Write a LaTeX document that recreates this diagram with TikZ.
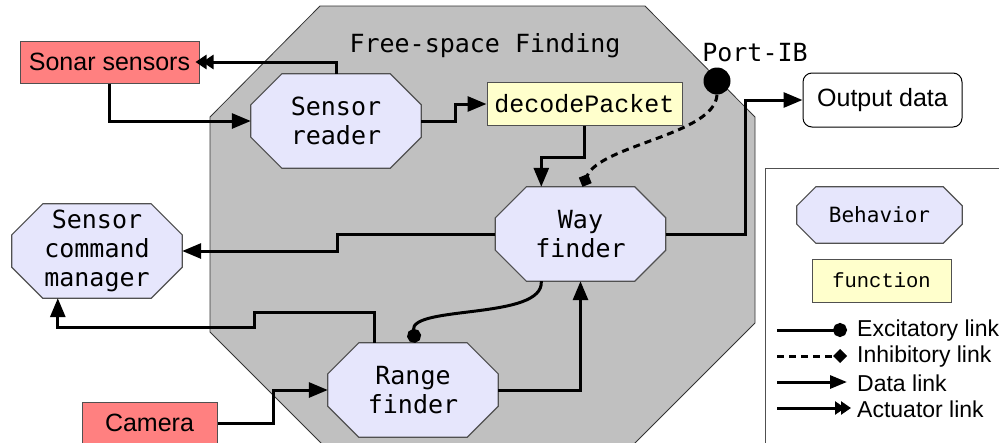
\documentclass[tikz,border=0pt]{standalone}
\usepackage{fontspec}
\setmainfont{Liberation Sans}
\newfontfamily\behfont{DejaVu Sans Mono}
\newfontfamily\funfont{Liberation Mono}
\usetikzlibrary{arrows.meta,calc}

\pgfdeclarelayer{back}
\pgfdeclarelayer{shapes}
\pgfsetlayers{back,shapes,main}

\definecolor{behfill}{RGB}{230,230,252}
\definecolor{sensfill}{RGB}{255,128,128}
\definecolor{funfill}{RGB}{255,255,204}
\definecolor{groupfill}{RGB}{192,192,192}
\definecolor{edgegray}{RGB}{80,80,80}

% octagon drawn round a named rectangle node: #1 node, #2 corner cut
\newcommand\octshape[2]{%
  \begin{pgfonlayer}{shapes}
    \draw[fill=behfill, draw=edgegray, line width=1.2pt]
      ([xshift=#2]#1.north west) -- ([xshift=-#2]#1.north east)
      -- ([yshift=-#2]#1.north east) -- ([yshift=#2]#1.south east)
      -- ([xshift=-#2]#1.south east) -- ([xshift=#2]#1.south west)
      -- ([yshift=#2]#1.south west) -- ([yshift=-#2]#1.north west) -- cycle;
  \end{pgfonlayer}}

\begin{document}
\begin{tikzpicture}[x=1pt, y=-1pt,
  beh/.style={rectangle, minimum width=170pt, minimum height=94pt, inner sep=0pt,
    align=center, font=\behfont\fontsize{25}{29}\selectfont},
  sensor/.style={rectangle, fill=sensfill, draw=edgegray, line width=1pt,
    minimum height=42pt, inner sep=0pt, font=\fontsize{25}{29}\selectfont},
  fun/.style={rectangle, fill=funfill, draw=edgegray, line width=1pt,
    minimum height=43pt, inner sep=0pt, font=\funfont\fontsize{25}{29}\selectfont},
  link/.style={line width=3pt},
  data/.style={link, -{Triangle[length=19pt,width=15pt]}},
  act/.style={link, -{Triangle[length=11pt,width=14pt,sep=-4pt]Triangle[length=11pt,width=14pt,sep=-4pt]}},
  exc/.style={link, -{Circle[length=14pt]}},
  inh/.style={link, dash pattern=on 7pt off 5pt, -{Turned Square[length=14pt,width=14pt]}},
  legtext/.style={anchor=west, inner sep=0pt, font=\fontsize{23}{26}\selectfont}
]
\useasboundingbox (0,0) rectangle (999,442);

% the free-space finding group
\begin{pgfonlayer}{back}
  \fill[white] (0,0) rectangle (999,442);
  \clip (0,0) rectangle (999,442);
  \draw[fill=groupfill, draw=black!80, line width=0.8pt]
    (320,6) -- (645,6) -- (755,117) -- (755,323) -- (618,460)
    -- (338,460) -- (210,332) -- (210,117) -- cycle;
\end{pgfonlayer}
\node[font=\behfont\fontsize{25}{29}\selectfont] (group) at (485,46) {Free-space Finding};

% sensors and outputs
\node[sensor, minimum width=179pt] (sonar) at (109.5,62) {Sonar sensors};
\node[sensor, minimum width=135pt] (cam) at (149.5,423) {Camera};
\node[rectangle, rounded corners=9pt, draw=black, line width=1pt, fill=white,
  minimum width=159pt, minimum height=54pt, inner sep=0pt,
  font=\fontsize{25}{29}\selectfont] (out) at (882.5,100) {Output data};

% behaviours
\node[beh] (sreader) at (336,121) {Sensor\\reader};
\octshape{sreader}{31pt}
\node[beh] (wfind) at (580.5,234) {Way\\finder};
\octshape{wfind}{31pt}
\node[beh] (scm) at (97,251) {Sensor\\command\\manager};
\octshape{scm}{31pt}
\node[beh] (rfind) at (413,390) {Range\\finder};
\octshape{rfind}{31pt}

% function and port
\node[fun, minimum width=195pt] (decode) at (584.5,104) {decodePacket};
\node[circle, fill=black, minimum size=27pt, inner sep=0pt] (port) at (717,81) {};
\node[font=\behfont\fontsize{25}{29}\selectfont, anchor=base] (portlbl) at (755,61) {Port-IB};

% links
\draw[act] (sreader.north) |- (sonar.east);
\draw[data] (sonar.south) |- (sreader.west);
\draw[data] (sreader.east) -- ++(34,0) |- (decode.west);
\draw[data] (decode.south) -- ++(0,31) -| ($(wfind.north west)+(46,0)$);
\draw[inh] (port.south) .. controls +(-2,40) and +(18,-42) .. ($(wfind.north)+(2,0)$);
\draw[data] (wfind.east) -- ++(80,0) |- (out.west);
\draw[data] (wfind.west) -- ++(-158,0) |- (scm.east);
\draw[data] ($(rfind.north west)+(47,0)$) -- ++(0,-30) -- ++(-120,0) -- ++(0,15)
  -| ($(scm.south west)+(46,0)$);
\draw[exc] ($(wfind.south west)+(46,0)$) .. controls +(3,39) and +(-5,-38) .. ($(rfind.north)+(2,0)$);
\draw[data] (rfind.east) -| (wfind.south);
\draw[data] (cam.east) -- ++(56,0) |- (rfind.west);

% legend
\draw[draw=edgegray, line width=1pt] (765,168) rectangle (1010,460);
\node[beh, minimum width=165pt, minimum height=56pt,
  font=\behfont\fontsize{21}{24}\selectfont] (lbeh) at (879.5,215) {Behavior};
\octshape{lbeh}{19pt}
\node[fun, minimum width=139pt, font=\funfont\fontsize{20.5}{24}\selectfont] (lfun) at (881.5,280.5) {function};

\coordinate (e0) at (777,330); \coordinate (e1) at (847,330);
\coordinate (i0) at (777,356); \coordinate (i1) at (847,356);
\coordinate (d0) at (777,382); \coordinate (d1) at (847,382);
\coordinate (a0) at (777,408); \coordinate (a1) at (847,408);
\draw[exc] (e0) -- (e1);
\draw[inh] (i0) -- (i1);
\draw[link, -{Triangle[length=17pt,width=13pt]}] (d0) -- (d1);
\draw[link, -{Triangle[length=10pt,width=13pt,sep=-4pt]Triangle[length=10pt,width=13pt,sep=-4pt]}] (a0) -- (a1);
\node[legtext] (le) at (857,331) {Excitatory link};
\node[legtext] (li) at (857,357) {Inhibitory link};
\node[legtext] (ld) at (857,383) {Data link};
\node[legtext] (la) at (857,409) {Actuator link};
\end{tikzpicture}
\end{document}
